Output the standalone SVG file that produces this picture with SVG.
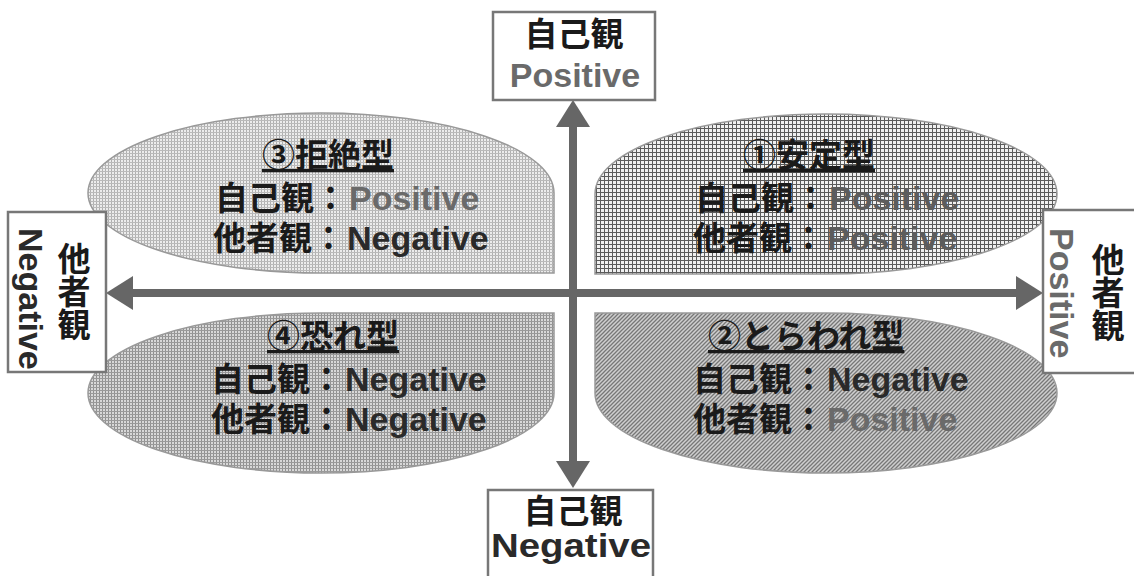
<svg xmlns="http://www.w3.org/2000/svg" width="1134" height="576" viewBox="0 0 1134 576">
<style>
.jp{font-family:"Noto Sans CJK JP","Liberation Sans",sans-serif;font-weight:bold;font-size:33px;fill:#1a1a1a}
.pos{font-family:"Liberation Sans",Arial,sans-serif;font-weight:bold;font-size:34px;fill:#6a6a6a}
.neg{font-family:"Liberation Sans",Arial,sans-serif;font-weight:bold;font-size:34px;fill:#2a2a2a}
.title{text-decoration:underline}
.box{fill:#fff;stroke:#777;stroke-width:2.5}
.shape{stroke:#999;stroke-width:1.5}
.axis{stroke:#666;stroke-width:8;fill:none}
</style>
<defs>
<pattern id="pTL" width="3" height="3" patternUnits="userSpaceOnUse">
<rect width="3" height="3" fill="#ececec"/><rect width="1" height="3" fill="#b0b0b0"/><rect width="3" height="1" fill="#bababa"/>
</pattern>
<pattern id="pTR" width="4" height="4" patternUnits="userSpaceOnUse">
<rect width="4" height="4" fill="#f0f0f0"/><rect width="1" height="4" fill="#5a5a5a"/><rect width="4" height="1" fill="#5a5a5a"/>
</pattern>
<pattern id="pBL" width="3" height="3" patternUnits="userSpaceOnUse">
<rect width="3" height="3" fill="#d8d8d8"/><rect width="1" height="3" fill="#909090"/><rect width="3" height="1" fill="#9a9a9a"/>
</pattern>
<pattern id="pBR" width="4" height="4" patternUnits="userSpaceOnUse">
<rect width="4" height="4" fill="#cfcfcf"/><path d="M-1,1 L1,-1 M0,4 L4,0 M3,5 L5,3" stroke="#777" stroke-width="1.3"/>
</pattern>
<marker id="ah" viewBox="0 -17 27 34" markerWidth="27" markerHeight="34" refX="0" refY="0" orient="auto-start-reverse" markerUnits="userSpaceOnUse">
<path d="M0,-17 L27,0 L0,17 Z" fill="#666"/>
</marker>
</defs>

<g id="connectors">
<line class="axis" x1="573" y1="127" x2="573" y2="461" marker-start="url(#ah)" marker-end="url(#ah)"/>
<line class="axis" x1="133" y1="293" x2="1016" y2="293" marker-start="url(#ah)" marker-end="url(#ah)"/>
</g>

<g id="q3">
<path class="shape" fill="url(#pTL)" d="M554,193 L554,273 L321,273 A233,80 0 0 1 88,193 A233,80 0 0 1 321,113 A233,80 0 0 1 554,193 Z"/>
<text class="jp title" x="262" y="167">③拒絶型</text>
<text class="jp" x="215" y="210">自己観：<tspan class="pos" dx="2">Positive</tspan></text>
<text class="jp" x="213" y="250">他者観：<tspan class="neg" dx="2">Negative</tspan></text>
</g>

<g id="q1">
<path class="shape" fill="url(#pTR)" d="M595,194 A231,80 0 0 1 826,114 A231,80 0 0 1 1057,194 A231,80 0 0 1 826,274 L595,274 Z"/>
<text class="jp title" x="743" y="167">①安定型</text>
<text class="jp" x="695" y="210">自己観：<tspan class="pos" dx="2" style="fill:#5c5c5c">Positive</tspan></text>
<text class="jp" x="693" y="250">他者観：<tspan class="pos" dx="2" style="fill:#5c5c5c">Positive</tspan></text>
</g>

<g id="q4">
<path class="shape" fill="url(#pBL)" d="M88,393 A233,80 0 0 1 321,313 L554,313 L554,393 A233,80 0 0 1 321,473 A233,80 0 0 1 88,393 Z"/>
<text class="jp title" x="267" y="348">④恐れ型</text>
<text class="jp" x="211" y="391">自己観：<tspan class="neg" dx="2">Negative</tspan></text>
<text class="jp" x="211" y="431">他者観：<tspan class="neg" dx="2">Negative</tspan></text>
</g>

<g id="q2">
<path class="shape" fill="url(#pBR)" d="M595,313 L826,313 A231,80 0 0 1 1057,393 A231,80 0 0 1 826,473 A231,80 0 0 1 595,393 Z"/>
<text class="jp title" x="708" y="348">②とらわれ型</text>
<text class="jp" x="693" y="391">自己観：<tspan class="neg" dx="2">Negative</tspan></text>
<text class="jp" x="693" y="431">他者観：<tspan class="pos" dx="2">Positive</tspan></text>
</g>

<g id="top-box">
<rect class="box" x="493" y="12" width="162" height="88"/>
<text class="jp" x="574" y="46" text-anchor="middle">自己観</text>
<text class="pos" x="575" y="87" text-anchor="middle">Positive</text>
</g>

<g id="bottom-box">
<rect class="box" x="488" y="490" width="165" height="100"/>
<text class="jp" x="573" y="523" text-anchor="middle">自己観</text>
<text class="neg" x="491" y="557" textLength="160" lengthAdjust="spacingAndGlyphs">Negative</text>
</g>

<g id="left-box">
<rect class="box" x="8" y="212" width="98" height="160"/>
<text class="jp" x="74" y="242" style="writing-mode:vertical-rl">他者観</text>
<text class="neg" transform="translate(19,228) rotate(90)">Negative</text>
</g>

<g id="right-box">
<rect class="box" x="1043" y="210" width="100" height="163"/>
<text class="jp" x="1108" y="243" style="writing-mode:vertical-rl">他者観</text>
<text class="pos" transform="translate(1050,228) rotate(90)">Positive</text>
</g>
</svg>
